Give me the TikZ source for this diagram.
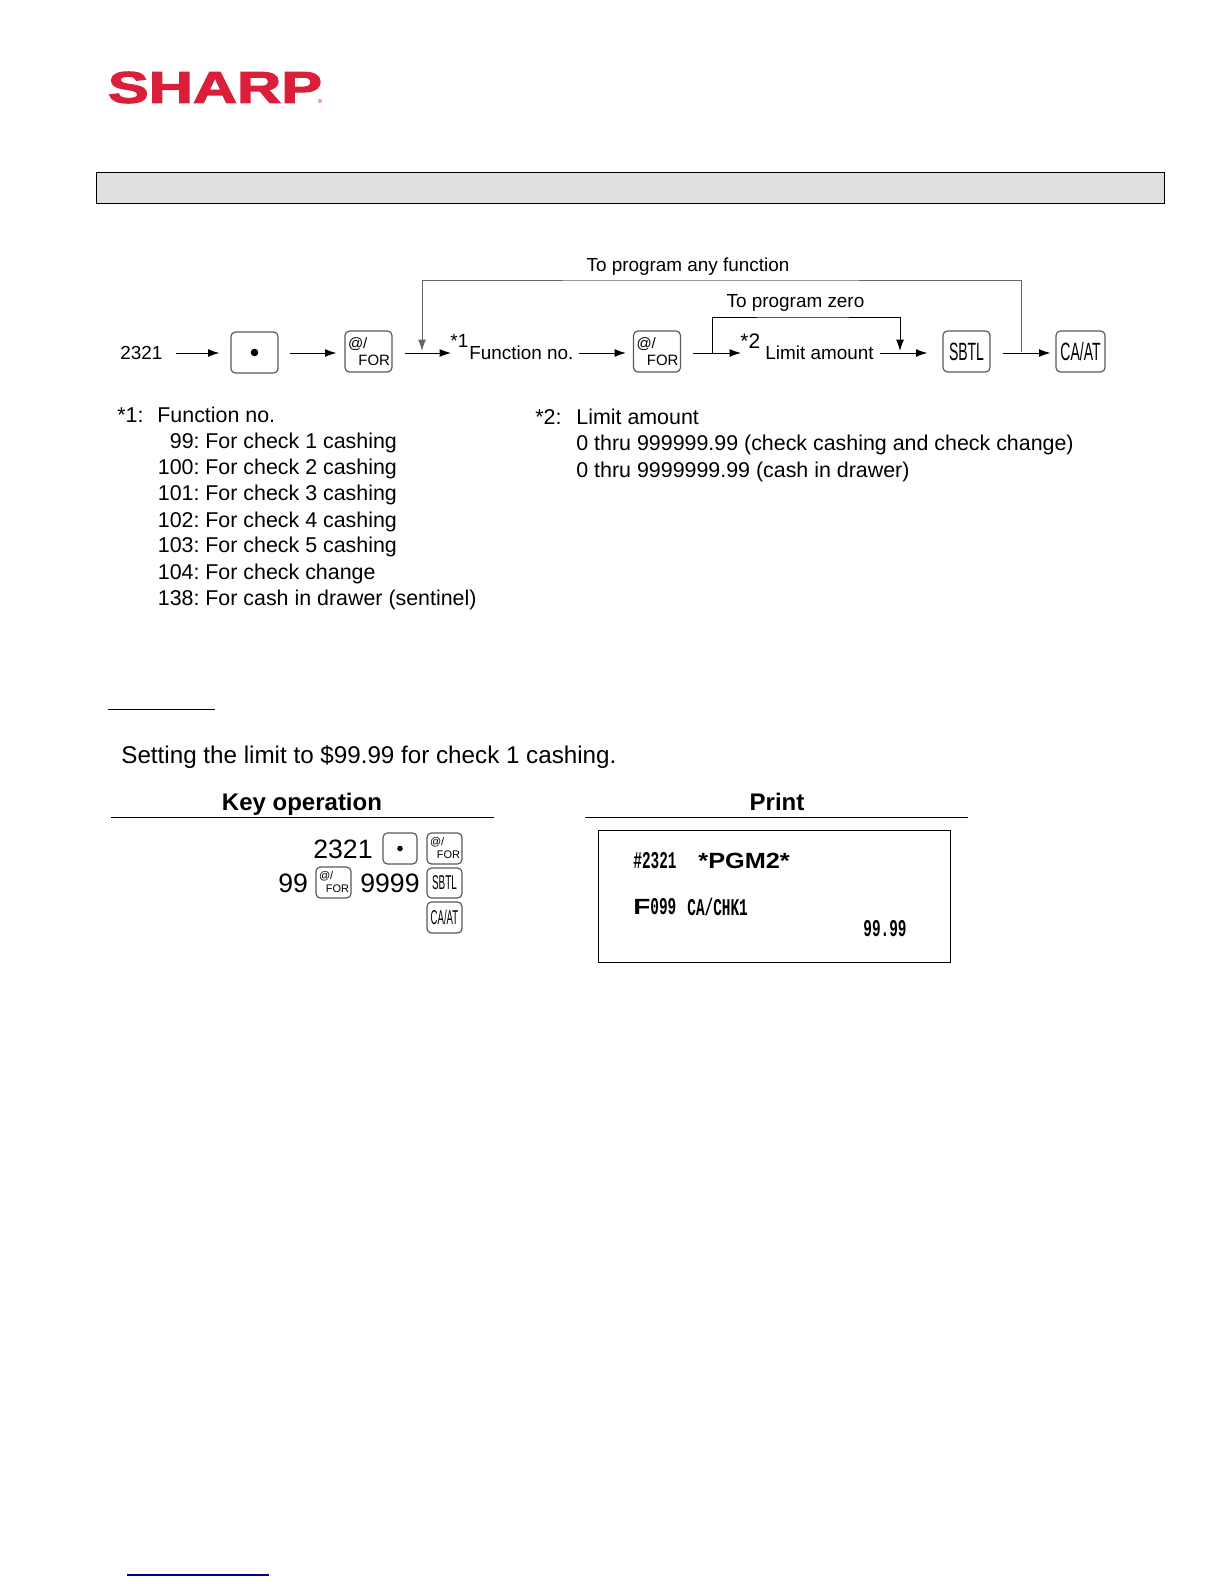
\documentclass[tikz,border=0pt]{standalone}
\usepackage{fontspec}
\setmainfont{Liberation Sans}
\newfontfamily\tapefont{Liberation Mono}
\newfontfamily\logofont[FakeBold=2.5]{Liberation Sans Bold}
\usetikzlibrary{arrows}
\usetikzlibrary{arrows.meta}
\tikzset{>={Latex[width=1.4mm,length=2mm]}}
\definecolor{sharpred}{HTML}{DB1F3A}
\definecolor{bandgray}{HTML}{E0E0E0}
\definecolor{linkblue}{HTML}{000080}
\tikzset{
  keycap/.style={draw=black!65,line width=.6pt,rounded corners=2.2pt,inner sep=0pt,minimum width=#1},
  flowtext/.style={inner sep=0pt,anchor=west,text height=6.8pt,text depth=0pt,font=\fontsize{9.45}{11}\selectfont},
  flow/.style={->,line width=.5pt},
  notetext/.style={inner sep=0pt,anchor=base west,font=\fontsize{10.7}{13}\selectfont},
  noteno/.style={inner sep=0pt,anchor=base east,font=\fontsize{10.7}{13}\selectfont},
  tapetext/.style={inner sep=0pt,anchor=west,font=\tapefont\bfseries\fontsize{12}{14}\selectfont},
  keynum/.style={inner sep=0pt,anchor=west,font=\fontsize{13.3}{15}\selectfont},
}
\newcommand{\forcap}[3]{\parbox{#1}{\fontsize{#2}{#3}\selectfont\hspace*{1.5pt}@/\\\hspace*{\fill}FOR\hspace*{1pt}}}
\newcommand{\slim}[2]{\scalebox{#1}[1]{#2}}
\begin{document}
\begin{tikzpicture}[x=.5pt,y=-.5pt]
  \useasboundingbox (0,0) rectangle (1224,1584);

  % Logo and band
  \node[inner sep=0pt,text=sharpred] (logo) at (215,87.5) {\resizebox{107pt}{15.5pt}{\logofont SHARP}};
  \node[inner sep=0pt,text=sharpred,font=\fontsize{3}{3}\selectfont] (logoMark) at (320,101) {\textregistered};
  \draw[fill=bandgray,line width=.45pt] (96,172) rectangle (1164,203);

  % Flow row
  \coordinate (rowMark) at (0,353);
  \node[flowtext] (n2321) at (120,353) {2321};
  \node[keycap=23.5pt,minimum height=20.5pt] (keyDot) at (254.5,352.5) {};
  \fill (keyDot) circle (1.9pt);
  \node[keycap=23.5pt,minimum height=20.5pt] (keyForA) at (368.5,351.5) {\forcap{23.5pt}{7.5}{8.5}};
  \node[flowtext,font=\fontsize{9.5}{11}\selectfont] (starOne) at (450,341) {*1};
  \node[flowtext] (fnNo) at (469,353) {Function no.};
  \node[keycap=23.5pt,minimum height=20.5pt] (keyForB) at (657,351.5) {\forcap{23.5pt}{7.5}{8.5}};
  \node[flowtext,font=\fontsize{10.5}{12}\selectfont] (starTwo) at (740,342) {*2};
  \node[flowtext] (limitAmt) at (765,353) {Limit amount};
  \node[keycap=23.5pt,minimum height=20.5pt,font=\fontsize{12.5}{14}\selectfont] (keySbtl) at (966.5,351.5) {\slim{.56}{SBTL}};
  \node[keycap=24.5pt,minimum height=20.5pt,font=\fontsize{12.5}{14}\selectfont] (keyCash) at (1080.5,351.5) {\slim{.56}{CA/AT}};

  \foreach \from/\to/\gapa/\gapb in {n2321/keyDot/6.5pt/5.5pt,keyDot/keyForA/5.5pt/4pt,keyForA/starOne/6pt/-.5pt,
    fnNo/keyForB/2.5pt/3.5pt,keyForB/starTwo/6pt/-.5pt,limitAmt/keySbtl/3pt/7.5pt,keySbtl/keyCash/6pt/2.5pt} {
    \draw[flow,shorten <=\gapa,shorten >=\gapb] (\from.east |- rowMark) -- (\to.west |- rowMark); }

  % Return lines
  \coordinate (loopStart) at (1021,352);
  \coordinate (loopTop) at (700,280);
  \coordinate (loopEnd) at (422,351);
  \coordinate (zeroStart) at (712,353);
  \coordinate (zeroTop) at (800,317);
  \coordinate (zeroEnd) at (900,351);
  \draw[->,line width=.5pt,draw=black!60] (loopStart) |- (loopTop) -| (loopEnd);
  \draw[->,line width=.5pt] (zeroStart) |- (zeroTop) -| (zeroEnd);
  \node[flowtext,anchor=center] (anyLabel) at (688,265) {To program any function};
  \node[flowtext,anchor=center] (zeroLabel) at (795.5,301) {To program zero};

  % Notes
  \node[notetext] (noteOne) at (117,422) {*1:};
  \node[notetext] (noteOneHead) at (157,422) {Function no.};
  \foreach \num/\txt/\rowy in {99/For check 1 cashing/448,100/For check 2 cashing/474,101/For check 3 cashing/500,
    102/For check 4 cashing/527,103/For check 5 cashing/552,104/For check change/579,138/For cash in drawer (sentinel)/605} {
    \node[noteno] (no\num) at (200,\rowy) {\num:};
    \node[notetext] (txt\num) at (205,\rowy) {\txt}; }
  \node[notetext] (noteTwo) at (535,424) {*2:};
  \node[notetext] (noteTwoHead) at (576,424) {Limit amount};
  \node[notetext] (rangeA) at (576,450) {0 thru 999999.99 (check cashing and check change)};
  \node[notetext] (rangeB) at (576,477) {0 thru 9999999.99 (cash in drawer)};

  % Example
  \coordinate (exLineA) at (108,709);
  \coordinate (exLineB) at (215,709);
  \draw[line width=.45pt] (exLineA) -- (exLineB);
  \node[notetext,font=\fontsize{12.1}{14}\selectfont] (exTitle) at (121,763) {Setting the limit to \$99.99 for check 1 cashing.};

  \node[inner sep=0pt,font=\fontsize{12}{14}\selectfont\bfseries] (keyHead) at (302,804) {Key operation};
  \node[inner sep=0pt,font=\fontsize{12}{14}\selectfont\bfseries] (printHead) at (777,802) {Print};
  \draw[line width=.5pt] (111,817) -- (494,817);
  \draw[line width=.5pt] (585,817) -- (968,817);

  \node[keynum] (opA) at (313,849) {2321};
  \node[keycap=17pt,minimum height=15.5pt] (opDot) at (400,848.5) {};
  \fill (opDot) circle (1.4pt);
  \node[keycap=17.5pt,minimum height=15.5pt] (opForA) at (444.5,848.5) {\forcap{17.5pt}{5.5}{6.5}};
  \node[keynum] (opB) at (278,883) {99};
  \node[keycap=17.5pt,minimum height=15.5pt] (opForB) at (333.5,882.5) {\forcap{17.5pt}{5.5}{6.5}};
  \node[keynum] (opC) at (360,883) {9999};
  \node[keycap=17.5pt,minimum height=15pt,font=\fontsize{10}{12}\selectfont] (opSbtl) at (444.5,883) {\slim{.5}{SBTL}};
  \node[keycap=17.5pt,minimum height=15.5pt,font=\fontsize{10}{12}\selectfont] (opCash) at (444.5,917.5) {\slim{.48}{CA/AT}};

  % Print box
  \draw[line width=.45pt] (598,830) rectangle (950,962);
  \node[tapetext] (tapeNo) at (633,861) {\slim{.6}{\#2321}};
  \node[inner sep=0pt,anchor=west,font=\fontsize{11}{13}\selectfont\bfseries] (tapeMode) at (698,861) {\slim{1.15}{*PGM2*}};
  \node[inner sep=0pt,anchor=west,font=\fontsize{11}{13}\selectfont\bfseries] (tapeF) at (633,907) {\slim{1.27}{F}};
  \node[tapetext] (tapeFn) at (650,907) {\slim{.6}{099}};
  \node[tapetext] (tapeName) at (687,907) {\slim{.6}{CA/CHK1}};
  \node[tapetext] (tapeAmt) at (863,929) {\slim{.6}{99.99}};

  % Footer
  \draw[linkblue,line width=.6pt] (127,1575) -- (269,1575);
\end{tikzpicture}
\end{document}
